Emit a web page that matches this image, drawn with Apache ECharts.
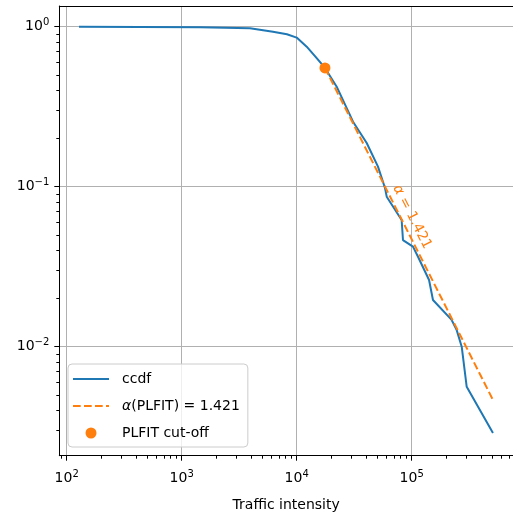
<!DOCTYPE html>
<html>
<head>
<meta charset="utf-8">
<script src="https://cdn.jsdelivr.net/npm/echarts@6/dist/echarts.min.js"></script>
<style>
  html, body { margin: 0; padding: 0; background: #fff; }
  #chart { width: 513px; height: 518px; }
</style>
</head>
<body>
<div id="chart"></div>
<script>
/* ccdf of traffic intensity, log-log, with PLFIT power-law fit */

// ccdf curve
const ccdfX = [128, 1442, 3926, 6223, 8230, 10000, 12220, 14930, 17620, 22280, 30900, 40640,
  50930, 58610, 60660, 81800, 84000, 102600, 113500, 141600, 153200, 222600, 246300,
  272300, 300900, 509000];
const ccdfY = [1.0, 0.991, 0.977, 0.93, 0.896, 0.854, 0.75, 0.635, 0.552, 0.4217, 0.2548, 0.1875,
  0.1334, 0.0981, 0.0866, 0.0619, 0.0464, 0.0422, 0.0365, 0.0261, 0.0196, 0.0147, 0.0127,
  0.0100, 0.00562, 0.00289];

// fitted power law (endpoints)
const fitX = [17620, 510000];
const fitY = [0.552, 0.00464];

// PLFIT cut-off point
const cutX = [17620];
const cutY = [0.552];

const alphaValue = '1.421';
const alphaLabelAt = [100700, 0.0647];

// tick labels (exponents)
const xMajor = [2, 3, 4, 5];
const yMajor = [-2, -1, 0];

// axis extents in log10 units
const xMin = 1.936, xMax = 5.881;
const yMin = -2.681, yMax = 0.129;

const L = Math.log10;
const FONT = 'DejaVu Sans';

function minorTicks(lo, hi) {
  const out = [];
  for (let e = Math.floor(lo) - 1; e <= Math.ceil(hi); e++) {
    for (let k = 2; k <= 9; k++) {
      const v = e + L(k);
      if (v > lo && v < hi) out.push(v);
    }
  }
  return out;
}

function powLabel(v) {
  const e = Math.round(v);
  return '{b|10}{s|' + (e < 0 ? '\u2212' + (-e) : e) + '}';
}

const labelRich = {
  b: { fontSize: 14, fontFamily: FONT, color: '#000' },
  s: { fontSize: 10, fontFamily: FONT, color: '#000', padding: [0, 0, 8, 0] }
};

const chart = echarts.init(document.getElementById('chart'), null, { renderer: 'canvas' });

const axisBase = {
  type: 'value',
  axisLine: { onZero: false, lineStyle: { color: '#000', width: 1 } },
  splitLine: { show: false },
  axisTick: { show: false },
  axisLabel: { show: false }
};

// legend line entries: no marker on the handle
const noMarker = { opacity: 0, color: 'rgba(0,0,0,0)', borderWidth: 0 };

const option = {
  animation: false,
  backgroundColor: '#fff',
  grid: { left: 59.3, top: 6, right: 0, bottom: 62.3, outerBoundsMode: 'none' },
  legend: {
    orient: 'vertical',
    left: 68,
    top: 364,
    itemWidth: 36,
    itemHeight: 11,
    itemGap: 13,
    padding: [8, 8, 7, 4],
    backgroundColor: 'rgba(255,255,255,0.8)',
    borderColor: '#cccccc',
    borderWidth: 1,
    borderRadius: 4,
    selectedMode: false,
    data: [
      { name: 'ccdf', itemStyle: noMarker },
      { name: '\u03b1(PLFIT) = ' + alphaValue, itemStyle: noMarker },
      { name: 'PLFIT cut-off' }
    ],
    formatter: name => name.charAt(0) === '\u03b1' ? '{i|\u03b1}{t|' + name.slice(1) + '}' : '{t|' + name + '}',
    textStyle: {
      fontSize: 14, fontFamily: FONT, color: '#000', padding: [0, 0, 0, 8],
      rich: {
        i: { fontSize: 14, fontFamily: FONT, fontStyle: 'italic', color: '#000' },
        t: { fontSize: 14, fontFamily: FONT, color: '#000' }
      }
    }
  },
  xAxis: [
    Object.assign({}, axisBase, {
      position: 'bottom', min: xMin, max: xMax,
      name: 'Traffic intensity', nameLocation: 'middle', nameGap: 43, nameMoveOverlap: false,
      nameTextStyle: { fontSize: 14, fontFamily: FONT, color: '#000' },
      axisTick: { show: true, length: 5, customValues: xMajor, lineStyle: { color: '#000' } },
      axisLabel: { show: true, margin: 14, customValues: xMajor, formatter: powLabel, rich: labelRich },
      splitLine: { show: true, lineStyle: { color: '#b0b0b0', width: 1 } }
    }),
    Object.assign({}, axisBase, {
      position: 'bottom', min: xMin, max: xMax,
      axisLine: { show: false, onZero: false },
      axisTick: { show: true, length: 3, customValues: minorTicks(xMin, xMax), lineStyle: { color: '#000' } }
    }),
    Object.assign({}, axisBase, { position: 'top', min: xMin, max: xMax })
  ],
  yAxis: [
    Object.assign({}, axisBase, {
      position: 'left', min: yMin, max: yMax,
      axisTick: { show: true, length: 5, customValues: yMajor, lineStyle: { color: '#000' } },
      axisLabel: { show: true, margin: 10, customValues: yMajor, formatter: powLabel, rich: labelRich },
      splitLine: { show: true, lineStyle: { color: '#b0b0b0', width: 1 } }
    }),
    Object.assign({}, axisBase, {
      position: 'left', min: yMin, max: yMax,
      axisLine: { show: false, onZero: false },
      axisTick: { show: true, length: 3, customValues: minorTicks(yMin, yMax), lineStyle: { color: '#000' } }
    })
  ],
  series: [
    {
      name: 'ccdf',
      type: 'line',
      symbol: 'none',
      silent: true,
      z: 2,
      color: '#1f77b4',
      lineStyle: { color: '#1f77b4', width: 2 },
      data: ccdfX.map((x, i) => [L(x), L(ccdfY[i])])
    },
    {
      name: '\u03b1(PLFIT) = ' + alphaValue,
      type: 'line',
      symbol: 'none',
      silent: true,
      z: 3,
      color: '#ff7f0e',
      lineStyle: { color: '#ff7f0e', width: 2, type: [7.7, 3.3] },
      data: fitX.map((x, i) => [L(x), L(fitY[i])]),
      markPoint: {
        silent: true,
        symbol: 'circle',
        symbolSize: 1,
        itemStyle: { color: 'rgba(0,0,0,0)' },
        label: {
          show: true,
          position: 'inside',
          rotate: -63,
          color: '#ff7f0e',
          fontSize: 14,
          fontFamily: FONT,
          formatter: '{i|\u03b1} = ' + alphaValue,
          rich: { i: { fontStyle: 'italic', fontSize: 14, fontFamily: FONT, color: '#ff7f0e' } }
        },
        data: [{ coord: [L(alphaLabelAt[0]), L(alphaLabelAt[1])] }]
      }
    },
    {
      name: 'PLFIT cut-off',
      type: 'scatter',
      symbol: 'circle',
      symbolSize: 11,
      silent: true,
      z: 4,
      color: '#ff7f0e',
      itemStyle: { color: '#ff7f0e', opacity: 1 },
      data: cutX.map((x, i) => [L(x), L(cutY[i])])
    }
  ]
};

chart.setOption(option);
</script>
</body>
</html>
